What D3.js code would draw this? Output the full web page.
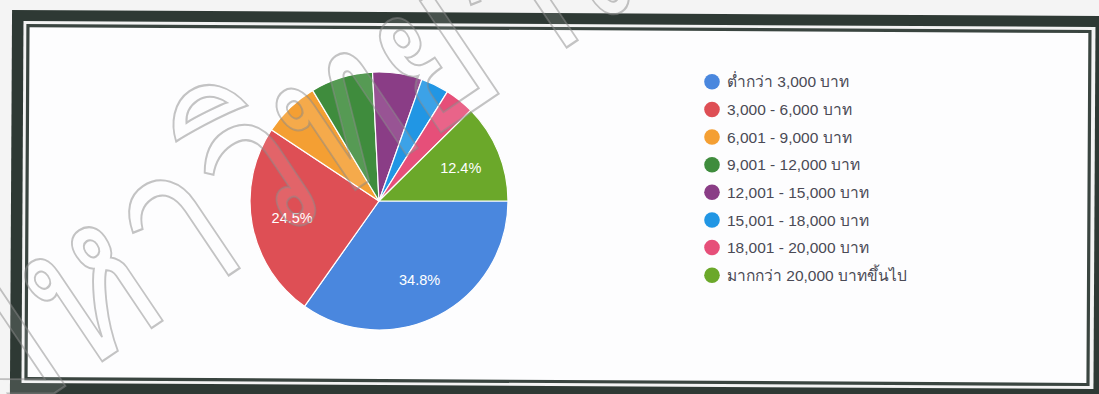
<!DOCTYPE html>
<html>
<head>
<meta charset="utf-8">
<script src="https://cdn.jsdelivr.net/npm/d3@7"></script>
<style>
  html, body { margin: 0; padding: 0; background: #f4f4f4; }
  svg { display: block; }
  text { font-family: Arial, "Liberation Sans", sans-serif; }
</style>
</head>
<body>
<svg id="chart" width="1099" height="394"></svg>
<script>
// income brackets (legend order = slice order, clockwise from 3 o'clock)
var categories = [
  "ต่ำกว่า 3,000 บาท",
  "3,000 - 6,000 บาท",
  "6,001 - 9,000 บาท",
  "9,001 - 12,000 บาท",
  "12,001 - 15,000 บาท",
  "15,001 - 18,000 บาท",
  "18,001 - 20,000 บาท",
  "มากกว่า 20,000 บาทขึ้นไป"
];
var percents = [34.8, 24.5, 7.1, 7.8, 6.2, 3.5, 3.7, 12.4];
var colors = ["#4a87de", "#de4f55", "#f49f33", "#3f8c3d", "#8a3d86", "#2196e4", "#e64f79", "#6ba82a"];
var watermark = "มหาวิทยาลัยศิลปากร";

var svg = d3.select("#chart");

// scanned photo frame, a touch crooked
var frame = svg.append("g").attr("transform", "rotate(0.32,549,200)");
frame.append("rect")
  .attr("x", 11).attr("y", 13).attr("width", 1120).attr("height", 400)
  .attr("fill", "#2e3934");
frame.append("rect")
  .attr("x", 22.5).attr("y", 24).attr("width", 1072).attr("height", 362)
  .attr("fill", "#f3f3f3");
frame.append("rect")
  .attr("x", 27).attr("y", 28.5).attr("width", 1062).attr("height", 353)
  .attr("fill", "#fdfdfe")
  .attr("stroke", "#3a4540")
  .attr("stroke-width", 3.2);

// pie
var cx = 379, cy = 201, radius = 129;
var color = d3.scaleOrdinal().domain(categories).range(colors);

var pie = d3.pie()
  .sort(null)
  .value(function(d) { return d.value; })
  .startAngle(Math.PI / 2)
  .endAngle(Math.PI / 2 + 2 * Math.PI);

var data = categories.map(function(c, i) {
  return {name: c, value: percents[i]};
});
var arcs = pie(data);

var arc = d3.arc().innerRadius(0).outerRadius(radius);
var labelArc = d3.arc().innerRadius(radius * 0.685).outerRadius(radius * 0.685);

var gPie = svg.append("g").attr("transform", "translate(" + cx + "," + cy + ")");

gPie.selectAll("path.slice")
  .data(arcs)
  .enter()
  .append("path")
  .classed("slice", true)
  .attr("d", arc)
  .attr("fill", function(d) { return color(d.data.name); })
  .attr("stroke", "#ffffff")
  .attr("stroke-width", 1.2);

gPie.selectAll("text.pct")
  .data(arcs.filter(function(d) { return d.data.value >= 10; }))
  .enter()
  .append("text")
  .classed("pct", true)
  .attr("transform", function(d) { return "translate(" + labelArc.centroid(d) + ")"; })
  .attr("text-anchor", "middle")
  .attr("dy", "0.36em")
  .attr("fill", "#ffffff")
  .attr("font-size", 14.5)
  .text(function(d) { return d.data.value.toFixed(1) + "%"; });

// legend
var legendY = d3.scaleBand().domain(categories).range([68, 289]);

var gLegend = svg.append("g").attr("transform", "translate(712,0)");
var rows = gLegend.selectAll("g.row")
  .data(categories)
  .enter()
  .append("g")
  .classed("row", true)
  .attr("transform", function(c) {
    return "translate(0," + (legendY(c) + legendY.bandwidth() / 2) + ")";
  });

rows.append("circle")
  .attr("r", 7.8)
  .attr("fill", function(c) { return color(c); });

rows.append("text")
  .attr("x", 15)
  .attr("dy", "0.36em")
  .attr("font-size", 15.5)
  .attr("fill", "#4a4a55")
  .text(function(c) { return c; });

// outlined diagonal watermark stamped over the page
svg.append("text")
  .attr("transform", "translate(-15,440) rotate(-34) scale(1.15,1.45)")
  .attr("font-size", 150)
  .attr("fill", "#ffffff")
  .attr("fill-opacity", 0.12)
  .attr("stroke", "#8a8a8a")
  .attr("stroke-opacity", 0.5)
  .attr("stroke-width", 1.5)
  .text(watermark);
</script>
</body>
</html>
